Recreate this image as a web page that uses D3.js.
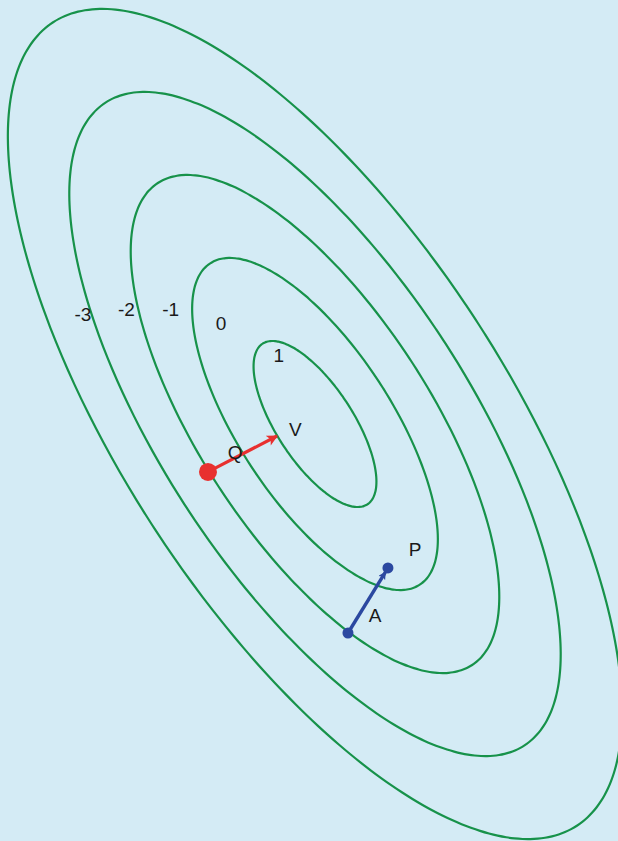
<!DOCTYPE html>
<html>
<head>
<meta charset="utf-8">
<script src="https://cdn.jsdelivr.net/npm/d3@7"></script>
<style>
  html, body { margin: 0; padding: 0; background: #d4ebf5; }
  #vis { width: 618px; height: 841px; }
  text { font-family: 'Liberation Sans', Arial, sans-serif; font-size: 19px; fill: #1a1a1a; }
</style>
</head>
<body>
<div id="vis"></div>
<script>
// contour levels, f = peak - elliptical radius
var levels = [1, 0, -1, -2, -3];
var peak = 2;

// unit ellipse (data units): semi-axes and tilt in degrees
var semiMajor = 1.562;
var semiMinor = 0.624;
var tiltDeg = -56.9;

// level label positions (data coords)
var levelLabels = [
    { text: '-3', x: -3.78, y: 1.67 },
    { text: '-2', x: -3.07, y: 1.76 },
    { text: '-1', x: -2.35, y: 1.76 },
    { text: '0',  x: -1.53, y: 1.53 },
    { text: '1',  x: -0.59, y: 1.01 }
];

// points and vectors (data coords)
var pointQ = { x: -1.743, y: -0.78 };
var tipV = { x: -0.619, y: -0.195 };
var pointA = { x: 0.537, y: -3.404 };
var pointP = { x: 1.188, y: -2.345 };

var pointLabels = [
    { text: 'Q', x: -1.30, y: -0.57 },
    { text: 'V', x: -0.32, y: -0.19 },
    { text: 'A', x: 0.977, y: -3.225 },
    { text: 'P', x: 1.63, y: -2.15 }
];

var width = document.getElementById('vis').clientWidth;
var height = document.getElementById('vis').clientHeight;

var svg = d3.select('#vis')
    .append('svg')
    .attr('width', width)
    .attr('height', height);

svg.append('rect')
    .attr('width', width)
    .attr('height', height)
    .attr('fill', '#d4ebf5');

var x_scale = d3.scaleLinear()
    .domain([-5, 5])
    .range([315 - 307, 315 + 307]);

var y_scale = d3.scaleLinear()
    .domain([-5, 5])
    .range([424 + 307, 424 - 307]);

var defs = svg.append('defs');

defs.append('marker')
    .attr('id', 'head-red')
    .attr('viewBox', '0 0 10 10')
    .attr('refX', 9)
    .attr('refY', 5)
    .attr('markerUnits', 'userSpaceOnUse')
    .attr('markerWidth', 13)
    .attr('markerHeight', 11)
    .attr('orient', 'auto')
    .append('path')
    .attr('d', 'M0,0 L10,5 L0,10 L2.5,5 Z')
    .attr('fill', '#e8302f');

defs.append('marker')
    .attr('id', 'head-blue')
    .attr('viewBox', '0 0 10 10')
    .attr('refX', 10)
    .attr('refY', 5)
    .attr('markerUnits', 'userSpaceOnUse')
    .attr('markerWidth', 9)
    .attr('markerHeight', 8)
    .attr('orient', 'auto')
    .append('path')
    .attr('d', 'M0,0 L10,5 L0,10 L2.5,5 Z')
    .attr('fill', '#2b48a0');

var theta = tiltDeg * Math.PI / 180;
var angles = d3.range(0, 360, 2).map(function(d) { return d * Math.PI / 180; });

var ellipse = d3.line()
    .x(function(d) { return x_scale(d.x); })
    .y(function(d) { return y_scale(d.y); })
    .curve(d3.curveCardinalClosed);

function contourPoints(level) {
    var r = peak - level;
    return angles.map(function(t) {
        var u = r * semiMajor * Math.cos(t);
        var v = r * semiMinor * Math.sin(t);
        return {
            x: u * Math.cos(theta) - v * Math.sin(theta),
            y: u * Math.sin(theta) + v * Math.cos(theta)
        };
    });
}

svg.selectAll('.contour')
    .data(levels)
    .enter()
    .append('path')
    .attr('class', 'contour')
    .attr('fill', 'none')
    .attr('stroke', '#17924a')
    .attr('stroke-width', 2.2)
    .attr('d', function(d) { return ellipse(contourPoints(d)); });

svg.selectAll('.level-label')
    .data(levelLabels)
    .enter()
    .append('text')
    .attr('class', 'level-label')
    .attr('text-anchor', 'middle')
    .attr('x', function(d) { return x_scale(d.x); })
    .attr('y', function(d) { return y_scale(d.y); })
    .text(function(d) { return d.text; });

// red vector from Q
svg.append('line')
    .attr('x1', x_scale(pointQ.x))
    .attr('y1', y_scale(pointQ.y))
    .attr('x2', x_scale(tipV.x))
    .attr('y2', y_scale(tipV.y))
    .attr('stroke', '#e8302f')
    .attr('stroke-width', 3.2)
    .attr('marker-end', 'url(#head-red)');

svg.append('circle')
    .attr('cx', x_scale(pointQ.x))
    .attr('cy', y_scale(pointQ.y))
    .attr('r', 9)
    .attr('fill', '#e8302f');

// blue vector from A to P
var dx = x_scale(pointP.x) - x_scale(pointA.x);
var dy = y_scale(pointP.y) - y_scale(pointA.y);
var len = Math.sqrt(dx * dx + dy * dy);

svg.append('line')
    .attr('x1', x_scale(pointA.x))
    .attr('y1', y_scale(pointA.y))
    .attr('x2', x_scale(pointP.x) - dx / len * 4)
    .attr('y2', y_scale(pointP.y) - dy / len * 4)
    .attr('stroke', '#2b48a0')
    .attr('stroke-width', 3.4)
    .attr('marker-end', 'url(#head-blue)');

svg.selectAll('.blue-dot')
    .data([pointA, pointP])
    .enter()
    .append('circle')
    .attr('class', 'blue-dot')
    .attr('cx', function(d) { return x_scale(d.x); })
    .attr('cy', function(d) { return y_scale(d.y); })
    .attr('r', 5.5)
    .attr('fill', '#2b48a0');

svg.selectAll('.point-label')
    .data(pointLabels)
    .enter()
    .append('text')
    .attr('class', 'point-label')
    .attr('text-anchor', 'middle')
    .attr('x', function(d) { return x_scale(d.x); })
    .attr('y', function(d) { return y_scale(d.y); })
    .text(function(d) { return d.text; });
</script>
</body>
</html>
